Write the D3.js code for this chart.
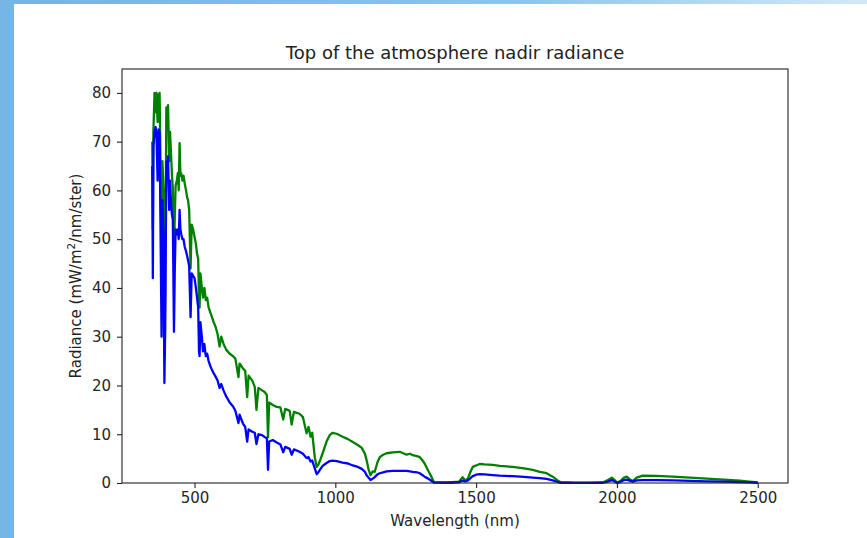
<!DOCTYPE html>
<html>
<head>
<meta charset="utf-8">
<script src="https://cdn.jsdelivr.net/npm/d3@7"></script>
<style>
  body { margin: 0; padding: 0; background: #fff; }
  text { font-family: "DejaVu Sans", sans-serif; }
</style>
</head>
<body>
<div id="my_dataviz"></div>
<script>
// wavelength grid (nm), shared by both spectra
var wavelength = [350,352,354,358,362,365,369,372,376,380,383,386,390,393,396,400,403,406,410,413,417,420,423,427,430,433,437,441,444,447,450,453,457,461,465,470,474,477,481,486,490,495,500,505,509,513,516,518,521,526,530,535,540,545,550,556,562,568,575,582,589,595,603,613,625,637,645,656,660,672,680,687,692,705,714,720,727,740,750,757,761,765,778,792,805,815,822,838,845,853,873,885,898,905,912,918,927,934,940,945,955,969,980,990,1005,1026,1045,1062,1080,1094,1105,1111,1118,1125,1133,1140,1150,1158,1170,1182,1204,1229,1253,1265,1275,1290,1300,1310,1317,1330,1342,1350,1400,1440,1452,1460,1470,1480,1488,1500,1513,1530,1559,1584,1630,1670,1701,1726,1750,1772,1790,1800,1850,1900,1950,1968,1982,1992,2000,2012,2025,2035,2045,2056,2070,2092,2140,2198,2260,2318,2380,2436,2470,2500];

// green spectrum (upper curve)
var radianceGreen = [70,52,72,80,76,80,74,79.5,80,62,45,66,60,26,40,77,74,77.5,66,72,67,63,60.5,46,55,61,62,63.6,60,69.7,63,63.5,62,63,61.5,60,58.5,58,56,44,53,52,50.5,49,47,46,38,36,43,40,38,40,37.5,38,36,35,34,33,32,30.5,28,30,28.5,27.3,26.5,26,25.5,21.7,24.5,23.5,23,17.6,22,21,19.7,15,19.5,19,18.6,18,9.4,16.5,16,15.6,15.5,13,15.2,14.8,12,14.6,14.2,13.5,10.2,11.5,9.5,10.3,5.3,3.3,3.8,4.5,6.1,8.5,9.8,10.3,10.1,9.5,9,8.4,7.8,7.2,6,4.7,2.8,1.6,2.4,2.3,4.3,5.3,5.8,6.1,6.3,6.4,5.8,6,5.7,5.5,5.3,4.6,4,2.5,1.2,0.2,0.1,0.3,1.2,0.6,0.8,2.3,3.3,3.6,3.9,3.8,3.7,3.5,3.3,3,2.7,2.3,2,1.3,0.5,0.15,0.05,0.05,0.1,0.6,1.1,0.6,0.1,0.4,1.1,1.3,0.8,0.4,1.1,1.5,1.45,1.3,1.1,0.9,0.7,0.5,0.3,0.1];

// blue spectrum (lower curve)
var radianceBlue = [65,42,69,72,73,71,62,72.5,72,48,30,58,50,20.5,32,66,63,67,56,62,57,55,54,31,44,52,51,52,50,56,52,51,50,50,48.5,47.5,46.5,45.7,44.5,34,43,42.5,42,40,38,36,27,26,33,30,27,28.5,26,26.5,25,24,23.2,22.5,21.8,21,19.5,20.3,19,17.7,16.5,15.7,14.8,12.3,14,12.2,11.5,8.5,11,10.5,10.3,8,10,9.8,9.4,9.2,2.7,8.5,8.8,8.3,7.9,6.3,7.4,7,5.8,6.9,6.4,6,5.1,5.3,4.4,4.6,3,1.8,2.2,2.7,3.5,4.1,4.5,4.6,4.5,4.2,4,3.6,3.3,2.9,2.3,1.6,1.1,0.6,0.9,1.2,1.8,2,2.2,2.4,2.5,2.5,2.5,2.4,2.3,2.2,2,1.6,1.3,0.9,0.4,0.1,0.05,0.15,0.5,0.3,0.5,1,1.4,1.7,1.8,1.75,1.6,1.5,1.4,1.25,1.1,1,0.85,0.55,0.2,0.05,0.02,0.02,0.05,0.3,0.6,0.3,0.05,0.2,0.6,0.7,0.5,0.3,0.55,0.6,0.6,0.55,0.45,0.35,0.28,0.2,0.12,0.05];

var xTicks = [500, 1000, 1500, 2000, 2500];
var yTicks = [0, 10, 20, 30, 40, 50, 60, 70, 80];

// page and plot dimensions
var W = 867, H = 538;
var margin = {top: 69, right: 79, bottom: 55, left: 122},
    width = W - margin.left - margin.right,
    height = H - margin.top - margin.bottom;

var page = d3.select("#my_dataviz")
  .append("svg")
    .attr("width", W)
    .attr("height", H);

// slide background: blue frame at left and top
var defs = page.append("defs");
var gTop = defs.append("linearGradient").attr("id", "topGrad")
    .attr("x1", "0%").attr("x2", "100%").attr("y1", "0%").attr("y2", "0%");
gTop.append("stop").attr("offset", "0%").attr("stop-color", "#72b4e6");
gTop.append("stop").attr("offset", "60%").attr("stop-color", "#8cc4ec");
gTop.append("stop").attr("offset", "100%").attr("stop-color", "#d3e9f8");

page.append("rect")
    .attr("width", W).attr("height", H)
    .attr("fill", "url(#topGrad)");
page.append("rect")
    .attr("width", 14).attr("height", H)
    .attr("fill", "#76b6e6");
page.append("rect")
    .attr("x", 14).attr("y", 4)
    .attr("width", W - 14).attr("height", H - 4)
    .attr("fill", "#ffffff");

var svg = page.append("g")
    .attr("transform", "translate(" + margin.left + "," + margin.top + ")");

// scales (matplotlib style 5% x margins)
var x = d3.scaleLinear()
    .domain([242.5, 2607.5])
    .range([0, width]);

var y = d3.scaleLinear()
    .domain([0, 84.9])
    .range([height, 0]);

// axes
var xAxis = svg.append("g")
    .attr("transform", "translate(0," + height + ")")
    .call(d3.axisBottom(x).tickValues(xTicks).tickFormat(d3.format("d"))
      .tickSize(5).tickPadding(4).tickSizeOuter(0));

var yAxis = svg.append("g")
    .call(d3.axisLeft(y).tickValues(yTicks).tickFormat(d3.format("d"))
      .tickSize(5).tickPadding(6).tickSizeOuter(0));

[xAxis, yAxis].forEach(function(a) {
  a.select(".domain").remove();
  a.selectAll(".tick line").attr("stroke", "#222").attr("stroke-width", 1.1);
  a.selectAll(".tick text")
    .style("font-family", "DejaVu Sans")
    .style("font-size", "15px")
    .attr("fill", "#262626");
});

// spectra
var line = d3.line()
    .x(function(d) { return x(d[0]); })
    .y(function(d) { return y(d[1]); });

var series = [
  {values: radianceGreen, color: "#008000"},
  {values: radianceBlue, color: "#0000ff"}
];

series.forEach(function(s) {
  var pts = wavelength.map(function(w, i) { return [w, s.values[i]]; });
  svg.append("path")
      .datum(pts)
      .attr("fill", "none")
      .attr("stroke", s.color)
      .attr("stroke-width", 2.3)
      .attr("stroke-linejoin", "round")
      .attr("d", line);
});

// frame
svg.append("rect")
    .attr("width", width).attr("height", height)
    .attr("fill", "none")
    .attr("stroke", "#222")
    .attr("stroke-width", 1.1);

// title and labels
svg.append("text")
    .attr("x", width / 2).attr("y", -10)
    .attr("text-anchor", "middle")
    .style("font-size", "18px")
    .attr("fill", "#222")
    .text("Top of the atmosphere nadir radiance");

svg.append("text")
    .attr("x", width / 2).attr("y", height + 43)
    .attr("text-anchor", "middle")
    .style("font-size", "15px")
    .attr("fill", "#222")
    .text("Wavelength (nm)");

var yl = svg.append("text")
    .attr("transform", "translate(" + (81 - margin.left) + "," + (height / 2) + ") rotate(-90)")
    .attr("text-anchor", "middle")
    .style("font-size", "15px")
    .attr("fill", "#222");
yl.append("tspan").text("Radiance (mW/m");
yl.append("tspan").attr("dy", -6).style("font-size", "10.5px").text("2");
yl.append("tspan").attr("dy", 6).text("/nm/ster)");
</script>
</body>
</html>
